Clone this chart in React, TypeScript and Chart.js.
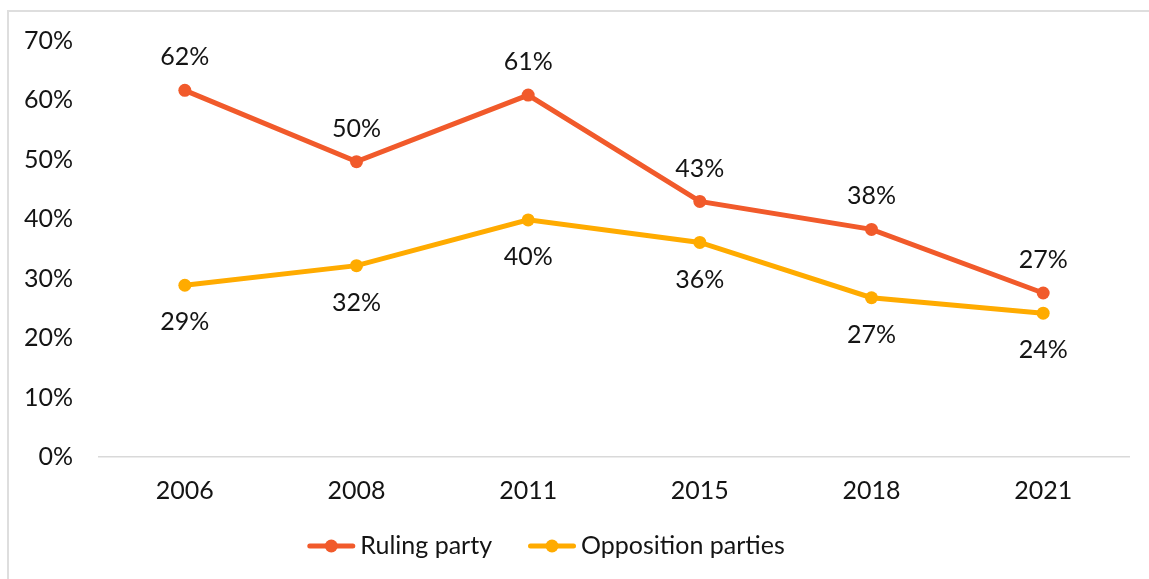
import React, { useEffect, useRef } from "react";
import { Chart, registerables } from "chart.js";

Chart.register(...registerables);

const categories = ["2006", "2008", "2011", "2015", "2018", "2021"];
const rulingValues = [61.7, 49.7, 60.9, 43.0, 38.3, 27.6];
const oppositionValues = [28.9, 32.2, 39.9, 36.1, 26.8, 24.2];
const rulingLabels = ["62%", "50%", "61%", "43%", "38%", "27%"];
const oppositionLabels = ["29%", "32%", "40%", "36%", "27%", "24%"];
const seriesNames = ["Ruling party", "Opposition parties"];
const yMax = 70;
const yStep = 10;

const RULING_COLOR = "#F15A2B";
const OPP_COLOR = "#FFAB00";
const TEXT_COLOR = "#141414";
const FONT_FAMILY = "Lato, 'Open Sans', sans-serif";
const FONT_SIZE = 25;

const W = 1149;
const H = 579;

const dataLabelPlugin = {
  id: "dataLabels",
  afterDatasetsDraw(chart: any) {
    const ctx = chart.ctx;
    const sets = [
      { labels: rulingLabels, offset: -33 },
      { labels: oppositionLabels, offset: 37 },
    ];
    ctx.save();
    ctx.font = `${FONT_SIZE}px ${FONT_FAMILY}`;
    ctx.fillStyle = TEXT_COLOR;
    ctx.textAlign = "center";
    ctx.textBaseline = "middle";
    sets.forEach((s, i) => {
      const meta = chart.getDatasetMeta(i);
      meta.data.forEach((pt: any, j: number) => {
        ctx.fillText(s.labels[j], pt.x, pt.y + s.offset);
      });
    });
    ctx.restore();
  },
};

const legendPlugin = {
  id: "customLegend",
  afterDraw(chart: any) {
    const ctx = chart.ctx;
    const items = [
      { text: seriesNames[0], color: RULING_COLOR },
      { text: seriesNames[1], color: OPP_COLOR },
    ];
    const sampleW = 48;
    const gap = 5;
    const itemGap = 36;
    const centerX = 546;
    const y = 546;
    ctx.save();
    ctx.font = `${FONT_SIZE}px ${FONT_FAMILY}`;
    const widths = items.map((it) => sampleW + gap + ctx.measureText(it.text).width);
    const total = widths.reduce((a, b) => a + b, 0) + itemGap * (items.length - 1);
    let x = centerX - total / 2;
    items.forEach((it, i) => {
      ctx.strokeStyle = it.color;
      ctx.lineWidth = 5;
      ctx.lineCap = "round";
      ctx.beginPath();
      ctx.moveTo(x + 2.5, y);
      ctx.lineTo(x + sampleW - 2.5, y);
      ctx.stroke();
      ctx.fillStyle = it.color;
      ctx.beginPath();
      ctx.arc(x + sampleW / 2, y, 6.5, 0, Math.PI * 2);
      ctx.fill();
      ctx.fillStyle = TEXT_COLOR;
      ctx.textAlign = "left";
      ctx.textBaseline = "middle";
      ctx.fillText(it.text, x + sampleW + gap, y);
      x += widths[i] + itemGap;
    });
    ctx.restore();
  },
};

export default function App() {
  const canvasRef = useRef<HTMLCanvasElement | null>(null);

  useEffect(() => {
    if (!canvasRef.current) return;
    const chart = new Chart(canvasRef.current, {
      type: "line",
      data: {
        labels: categories,
        datasets: [
          {
            label: seriesNames[0],
            data: rulingValues,
            borderColor: RULING_COLOR,
            backgroundColor: RULING_COLOR,
            pointBackgroundColor: RULING_COLOR,
            pointBorderWidth: 0,
            pointRadius: 6.5,
            borderWidth: 5,
            tension: 0,
          },
          {
            label: seriesNames[1],
            data: oppositionValues,
            borderColor: OPP_COLOR,
            backgroundColor: OPP_COLOR,
            pointBackgroundColor: OPP_COLOR,
            pointBorderWidth: 0,
            pointRadius: 6.5,
            borderWidth: 5,
            tension: 0,
          },
        ],
      },
      options: {
        responsive: false,
        animation: false,
        devicePixelRatio: 1,
        layout: { padding: { left: 0, right: 20, top: 40, bottom: 62 } },
        plugins: {
          legend: { display: false },
          tooltip: { enabled: false },
        },
        scales: {
          x: {
            type: "category",
            offset: true,
            grid: { display: false, drawTicks: false },
            border: { display: true, color: "#d9d9d9", width: 1.5 },
            ticks: {
              color: TEXT_COLOR,
              padding: 19,
              font: { family: FONT_FAMILY, size: FONT_SIZE },
              maxRotation: 0,
            },
            afterFit: (s: any) => {
              s.height = 60;
            },
          },
          y: {
            min: 0,
            max: yMax,
            grid: { display: false, drawTicks: false },
            border: { display: false },
            ticks: {
              stepSize: yStep,
              color: TEXT_COLOR,
              padding: 26,
              font: { family: FONT_FAMILY, size: FONT_SIZE },
              callback: (v: any) => `${v}%`,
            },
            afterFit: (s: any) => {
              s.width = 99;
            },
          },
        },
      },
      plugins: [dataLabelPlugin, legendPlugin],
    });
    return () => chart.destroy();
  }, []);

  return (
    <div
      style={{
        position: "fixed",
        left: 0,
        top: 0,
        width: W,
        height: H,
        overflow: "hidden",
        background: "#ffffff",
      }}
    >
      <div
        style={{
          position: "absolute",
          left: 7,
          top: 10,
          width: W + 20,
          height: H + 20,
          border: "2px solid #dedede",
          boxSizing: "border-box",
        }}
      />
      <canvas
        ref={canvasRef}
        width={W}
        height={H}
        style={{ position: "absolute", left: 0, top: 0, width: W, height: H }}
      />
    </div>
  );
}
